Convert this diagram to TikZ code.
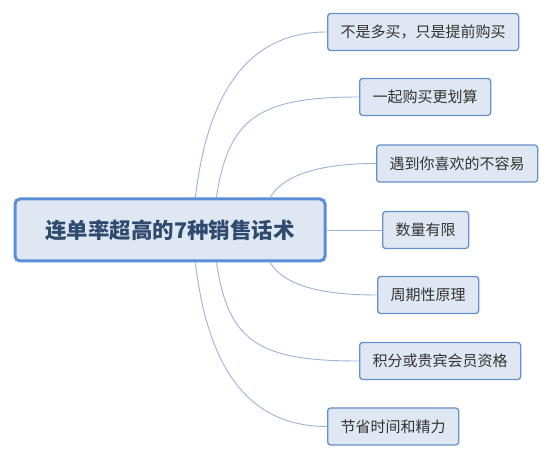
\documentclass[tikz,border=0pt]{standalone}
\usepackage{fontspec}
\setmainfont{Noto Sans CJK SC}
\usetikzlibrary{positioning}

\definecolor{boxfill}{HTML}{DFE7F3}
\definecolor{rootline}{HTML}{5A8ED6}
\definecolor{childline}{HTML}{6690CC}
\definecolor{roottext}{HTML}{2E4A6E}
\definecolor{branchline}{HTML}{9DB3D9}

\begin{document}
\begin{tikzpicture}[
    x=1pt, y=1pt,
    box/.style={
        draw,
        fill=boxfill,
        align=center,
        anchor=west
    },
    rootbox/.style={
        box,
        anchor=center,
        draw=rootline,
        line width=3pt,
        rounded corners=5pt,
        minimum width=310pt,
        minimum height=62pt,
        text=roottext,
        font=\fontsize{21.5}{24}\selectfont\bfseries
    },
    childbox/.style={
        box,
        draw=childline,
        line width=1.3pt,
        rounded corners=3pt,
        inner xsep=13pt,
        minimum height=37pt,
        text=black!80,
        font=\fontsize{15}{18}\selectfont
    },
    branch/.style={draw=branchline, line width=0.9pt}
]
\useasboundingbox (0,0) rectangle (554,460);

\node[rootbox] (root) at (170,230) {连单率超高的7种销售话术};

\node[childbox] (buyahead) at (327,428) {不是多买，只是提前购买};
\node[childbox] (together) at (359,363) {一起购买更划算};
\node[childbox] (rarefind) at (376,296.5) {遇到你喜欢的不容易};
\node[childbox] (limited) at (382,230) {数量有限};
\node[childbox] (cycle) at (377,165) {周期性原理};
\node[childbox] (points) at (359,99) {积分或贵宾会员资格};
\node[childbox] (savetime) at (327,33.5) {节省时间和精力};

% branches from the root box to each item
\draw[branch] (root.52) .. controls +(13,111) and +(-75,0) .. (buyahead.west);
\draw[branch] (root.35) .. controls +(12,80) and +(-100,0) .. (together.west);
\draw[branch] (root.18) .. controls +(15,25) and +(-50,0) .. (rarefind.west);
\draw[branch] (root.east) -- (limited.west);
\draw[branch] (root.-18) .. controls +(15,-25) and +(-50,0) .. (cycle.west);
\draw[branch] (root.-35) .. controls +(12,-80) and +(-100,0) .. (points.west);
\draw[branch] (root.-52) .. controls +(13,-111) and +(-75,0) .. (savetime.west);
\end{tikzpicture}
\end{document}
